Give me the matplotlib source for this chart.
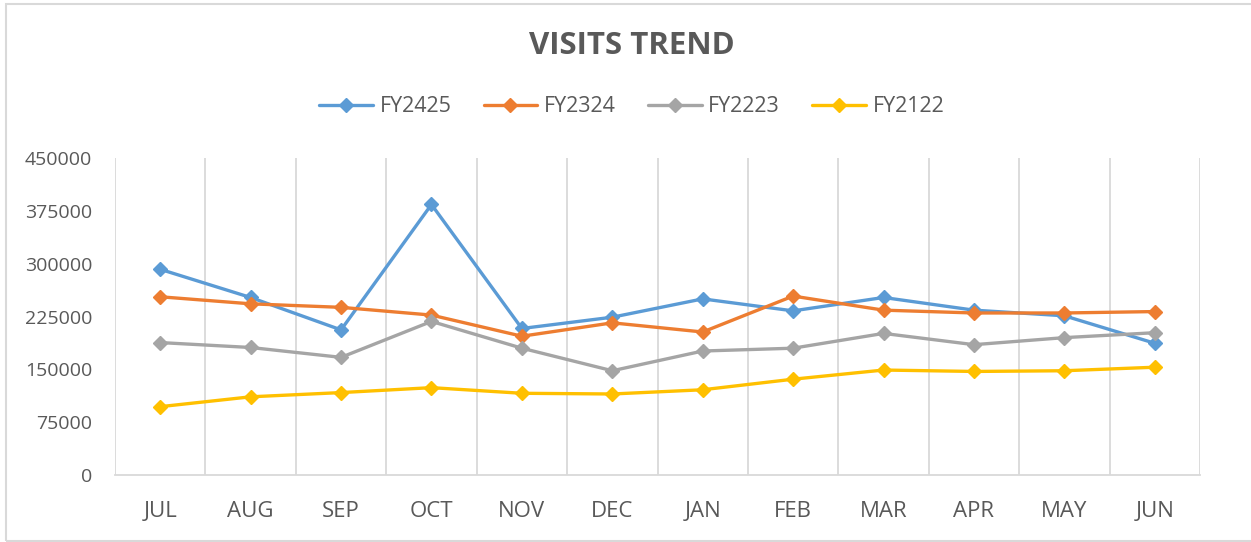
import matplotlib
matplotlib.use("Agg")
import matplotlib.pyplot as plt
from matplotlib.patches import Rectangle
from matplotlib.ticker import FixedLocator, NullFormatter

months = ["JUL", "AUG", "SEP", "OCT", "NOV", "DEC", "JAN", "FEB", "MAR", "APR", "MAY", "JUN"]
fy2425 = [292000, 252000, 206000, 384000, 208000, 224000, 250000, 233000, 252000, 234000, 226000, 187000]
fy2324 = [253000, 243000, 238000, 227000, 197000, 216000, 203000, 254000, 234000, 230000, 230000, 232000]
fy2223 = [188000, 181000, 167000, 218000, 180000, 148000, 176000, 180000, 201000, 185000, 195000, 202000]
fy2122 = [97000, 111000, 117000, 124000, 116000, 115000, 121000, 136000, 149000, 147000, 148000, 153000]
series_names = ["FY2425", "FY2324", "FY2223", "FY2122"]
y_ticks = [0, 75000, 150000, 225000, 300000, 375000, 450000]

colors = ["#5B9BD5", "#ED7D31", "#A5A5A5", "#FFC000"]
text_color = "#595959"
grid_color = "#D9D9D9"

plt.rcParams['font.family'] = ['Open Sans', 'DejaVu Sans']

W, H = 1251, 542
fig = plt.figure(figsize=(W / 100, H / 100), dpi=100)
ax = fig.add_axes([115 / W, 1 - 475 / H, (1200 - 115) / W, (475 - 158) / H])

x = list(range(len(months)))
for vals, name, c in zip([fy2425, fy2324, fy2223, fy2122], series_names, colors):
    ax.plot(x, vals, color=c, lw=2.4, marker="D", markersize=7, label=name,
            solid_joinstyle="round", solid_capstyle="round")

ax.set_xlim(-0.5, len(months) - 0.5)
ax.set_ylim(0, 450000)
ax.set_yticks(y_ticks)
ax.set_yticklabels([str(v) for v in y_ticks])
ax.set_xticks(x)
ax.set_xticklabels(months)
ax.xaxis.set_minor_locator(FixedLocator([i - 0.5 for i in range(len(months) + 1)]))
ax.xaxis.set_minor_formatter(NullFormatter())
ax.grid(False)
ax.grid(True, which="minor", axis="x", color=grid_color, lw=1.3)
ax.set_axisbelow(True)
for s in ["top", "right", "left"]:
    ax.spines[s].set_visible(False)
ax.spines["bottom"].set_color(grid_color)
ax.spines["bottom"].set_linewidth(1.3)
ax.tick_params(axis="both", which="both", length=0)
ax.tick_params(axis="y", pad=16.5, labelsize=14, labelcolor=text_color)
ax.tick_params(axis="x", pad=19, labelsize=16, labelcolor=text_color)

fig.text(0.505, 1 - 46 / H, "VISITS TREND", ha="center", va="center",
         fontsize=22.5, fontweight="bold", color=text_color)

leg = fig.legend(loc="center", bbox_to_anchor=(0.505, 1 - 107 / H), ncol=4, frameon=False,
                 fontsize=15.5, handlelength=2.5, columnspacing=1.5, handletextpad=0.3)
for t in leg.get_texts():
    t.set_color(text_color)

fig.patches.append(Rectangle((6 / W, 1 / H), 1.0, 1 - 5 / H, transform=fig.transFigure,
                             fill=False, edgecolor=grid_color, lw=1.5))

fig.savefig("out.png", dpi=100)
